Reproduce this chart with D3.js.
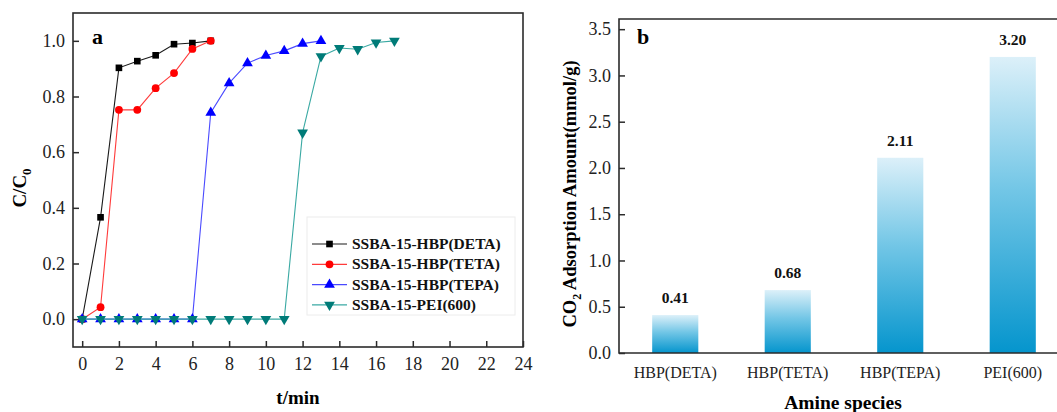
<!DOCTYPE html>
<html>
<head>
<meta charset="utf-8">
<script src="https://cdn.jsdelivr.net/npm/d3@7"></script>
<style>
  body { margin: 0; background: #fff; }
  svg text { font-family: "Liberation Serif", "Times New Roman", serif; }
</style>
</head>
<body>
<svg id="chart" width="1057" height="412"></svg>
<script>
// ---- data: panel a (breakthrough curves) ----
const tDETA = [0, 1, 2, 3, 4, 5, 6, 7];
const cDETA = [0, 0.366, 0.903, 0.927, 0.948, 0.988, 0.992, 1.0];
const tTETA = [0, 1, 2, 3, 4, 5, 6, 7];
const cTETA = [0, 0.043, 0.752, 0.752, 0.83, 0.884, 0.971, 1.0];
const tTEPA = [0, 1, 2, 3, 4, 5, 6, 7, 8, 9, 10, 11, 12, 13];
const cTEPA = [0, 0, 0, 0, 0, 0, 0, 0.742, 0.848, 0.92, 0.947, 0.964, 0.99, 1.0];
const tPEI = [0, 1, 2, 3, 4, 5, 6, 7, 8, 9, 10, 11, 12, 13, 14, 15, 16, 17];
const cPEI = [0, 0, 0, 0, 0, 0, 0, 0, 0, 0, 0, 0, 0.67, 0.944, 0.974, 0.97, 0.994, 1.0];
const seriesNames = ["SSBA-15-HBP(DETA)", "SSBA-15-HBP(TETA)", "SSBA-15-HBP(TEPA)", "SSBA-15-PEI(600)"];
const xTicksA = [0, 2, 4, 6, 8, 10, 12, 14, 16, 18, 20, 22, 24];
const yTicksA = [0, 0.2, 0.4, 0.6, 0.8, 1.0];

// ---- data: panel b (bars) ----
const amines = ["HBP(DETA)", "HBP(TETA)", "HBP(TEPA)", "PEI(600)"];
const uptake = [0.41, 0.68, 2.11, 3.20];
const yTicksB = [0, 0.5, 1.0, 1.5, 2.0, 2.5, 3.0, 3.5];

const FONT = "Liberation Serif";
const svg = d3.select("#chart").attr("font-family", FONT);
const axisColor = "#2b2b2b";

// ================= panel a =================
const A = {left: 73, right: 523, top: 13, bottom: 347};
const x = d3.scaleLinear().domain([-0.5, 24]).range([A.left, A.right]);
const y = d3.scaleLinear().domain([-0.1, 1.1]).range([A.bottom, A.top]);

const ga = svg.append("g");

ga.append("rect")
  .attr("x", A.left).attr("y", A.top)
  .attr("width", A.right - A.left).attr("height", A.bottom - A.top)
  .attr("fill", "none").attr("stroke", axisColor).attr("stroke-width", 1.6);

const xAxisA = ga.append("g")
  .attr("transform", `translate(0,${A.bottom})`)
  .call(d3.axisBottom(x).tickValues(xTicksA).tickSizeInner(-6).tickSizeOuter(0).tickPadding(10));
const yAxisA = ga.append("g")
  .attr("transform", `translate(${A.left},0)`)
  .call(d3.axisLeft(y).tickValues(yTicksA).tickFormat(d3.format(".1f")).tickSizeInner(-6).tickSizeOuter(0).tickPadding(8));

[xAxisA, yAxisA].forEach(ax => {
  ax.attr("font-family", FONT);
  ax.select(".domain").remove();
  ax.selectAll(".tick line").attr("stroke", axisColor).attr("stroke-width", 1.5);
  ax.selectAll(".tick text").attr("fill", "#222").style("font-size", "18px");
});

ga.append("text")
  .attr("x", (A.left + A.right) / 2).attr("y", 404)
  .attr("text-anchor", "middle").attr("font-weight", "bold").style("font-size", "19px")
  .text("t/min");

const yt = ga.append("text")
  .attr("transform", `translate(26,${(A.top + A.bottom) / 2 + 8}) rotate(-90)`)
  .attr("text-anchor", "middle").attr("font-weight", "bold").style("font-size", "19px");
yt.append("tspan").text("C/C");
yt.append("tspan").attr("dy", 5).style("font-size", "13px").text("0");

ga.append("text")
  .attr("x", 92).attr("y", 44)
  .attr("font-weight", "bold").style("font-size", "22px")
  .text("a");

const series = [
  {t: tDETA, c: cDETA, color: "#000000", line: "#1a1a1a", sym: d3.symbolSquare, size: 44, rot: 0},
  {t: tTETA, c: cTETA, color: "#ff0000", line: "#ff3b3b", sym: d3.symbolCircle, size: 48, rot: 0},
  {t: tTEPA, c: cTEPA, color: "#0000ff", line: "#4a4aff", sym: d3.symbolTriangle, size: 50, rot: 0},
  {t: tPEI, c: cPEI, color: "#007b78", line: "#3aa9a3", sym: d3.symbolTriangle, size: 50, rot: 180}
];

const line = d3.line().x(d => x(d[0])).y(d => y(d[1]));

series.forEach(s => {
  const pts = s.t.map((t, i) => [t, s.c[i]]);
  ga.append("path").datum(pts)
    .attr("fill", "none").attr("stroke", s.line).attr("stroke-width", 1.1)
    .attr("d", line);
  ga.append("g").selectAll("path").data(pts).join("path")
    .attr("transform", d => `translate(${x(d[0])},${y(d[1])}) rotate(${s.rot})`)
    .attr("d", d3.symbol().type(s.sym).size(s.size))
    .attr("fill", s.color);
});

// legend
const leg = ga.append("g");
leg.append("rect")
  .attr("x", 307).attr("y", 217).attr("width", 208).attr("height", 98)
  .attr("fill", "#fff").attr("stroke", "#ececec").attr("stroke-width", 1);
series.forEach((s, i) => {
  const ly = 244 + i * 20.3;
  leg.append("line").attr("x1", 312).attr("x2", 347).attr("y1", ly).attr("y2", ly)
    .attr("stroke", s.line).attr("stroke-width", 1.2);
  leg.append("path")
    .attr("transform", `translate(329.5,${ly}) rotate(${s.rot})`)
    .attr("d", d3.symbol().type(s.sym).size(s.size))
    .attr("fill", s.color);
  leg.append("text").attr("x", 352).attr("y", ly + 5)
    .attr("font-weight", "bold").style("font-size", "15.5px").attr("fill", "#111")
    .text(seriesNames[i]);
});

// ================= panel b =================
const B = {left: 619, right: 1069, top: 19, bottom: 353};
const xb = d3.scaleBand().domain(amines).range([B.left, B.right]).paddingInner(0.59).paddingOuter(0.295);
const yb = d3.scaleLinear().domain([0, 3.61]).range([B.bottom, B.top]);

const gb = svg.append("g");

const defs = svg.append("defs");
const grad = defs.append("linearGradient").attr("id", "barGrad")
  .attr("x1", 0).attr("y1", 0).attr("x2", 0).attr("y2", 1);
grad.append("stop").attr("offset", "0%").attr("stop-color", "#dcf0f9");
grad.append("stop").attr("offset", "45%").attr("stop-color", "#72c6e6");
grad.append("stop").attr("offset", "100%").attr("stop-color", "#0595cd");

gb.append("g").selectAll("rect").data(amines).join("rect")
  .attr("x", d => xb(d))
  .attr("y", (d, i) => yb(uptake[i]))
  .attr("width", xb.bandwidth())
  .attr("height", (d, i) => yb(0) - yb(uptake[i]))
  .attr("fill", "url(#barGrad)");

gb.append("g").selectAll("text").data(amines).join("text")
  .attr("x", d => xb(d) + xb.bandwidth() / 2)
  .attr("y", (d, i) => yb(uptake[i]) - 12)
  .attr("text-anchor", "middle").attr("font-weight", "bold").style("font-size", "15.5px")
  .attr("fill", "#111")
  .text((d, i) => d3.format(".2f")(uptake[i]));

gb.append("path")
  .attr("d", `M${B.right},${B.top}H${B.left}V${B.bottom}H${B.right}`)
  .attr("fill", "none").attr("stroke", axisColor).attr("stroke-width", 1.6);

const yAxisB = gb.append("g")
  .attr("transform", `translate(${B.left},0)`)
  .call(d3.axisLeft(yb).tickValues(yTicksB).tickFormat(d3.format(".1f")).tickSizeInner(-6).tickSizeOuter(0).tickPadding(8));
const xAxisB = gb.append("g")
  .attr("transform", `translate(0,${B.bottom})`)
  .call(d3.axisBottom(xb).tickSize(0).tickPadding(14));

[xAxisB, yAxisB].forEach(ax => {
  ax.attr("font-family", FONT);
  ax.select(".domain").remove();
  ax.selectAll(".tick line").attr("stroke", axisColor).attr("stroke-width", 1.5);
  ax.selectAll(".tick text").attr("fill", "#222");
});
yAxisB.selectAll(".tick text").style("font-size", "18px");
xAxisB.selectAll(".tick text").style("font-size", "16px");

gb.append("text")
  .attr("x", (B.left + B.right) / 2 - 1).attr("y", 409)
  .attr("text-anchor", "middle").attr("font-weight", "bold").style("font-size", "19.5px")
  .text("Amine species");

const ybt = gb.append("text")
  .attr("transform", `translate(576,${(B.top + B.bottom) / 2 + 8}) rotate(-90)`)
  .attr("text-anchor", "middle").attr("font-weight", "bold").style("font-size", "18.5px");
ybt.append("tspan").text("CO");
ybt.append("tspan").attr("dy", 5).style("font-size", "12px").text("2");
ybt.append("tspan").attr("dy", -5).text(" Adsorption Amount(mmol/g)");

gb.append("text")
  .attr("x", 637).attr("y", 44)
  .attr("font-weight", "bold").style("font-size", "22px")
  .text("b");
</script>
</body>
</html>
